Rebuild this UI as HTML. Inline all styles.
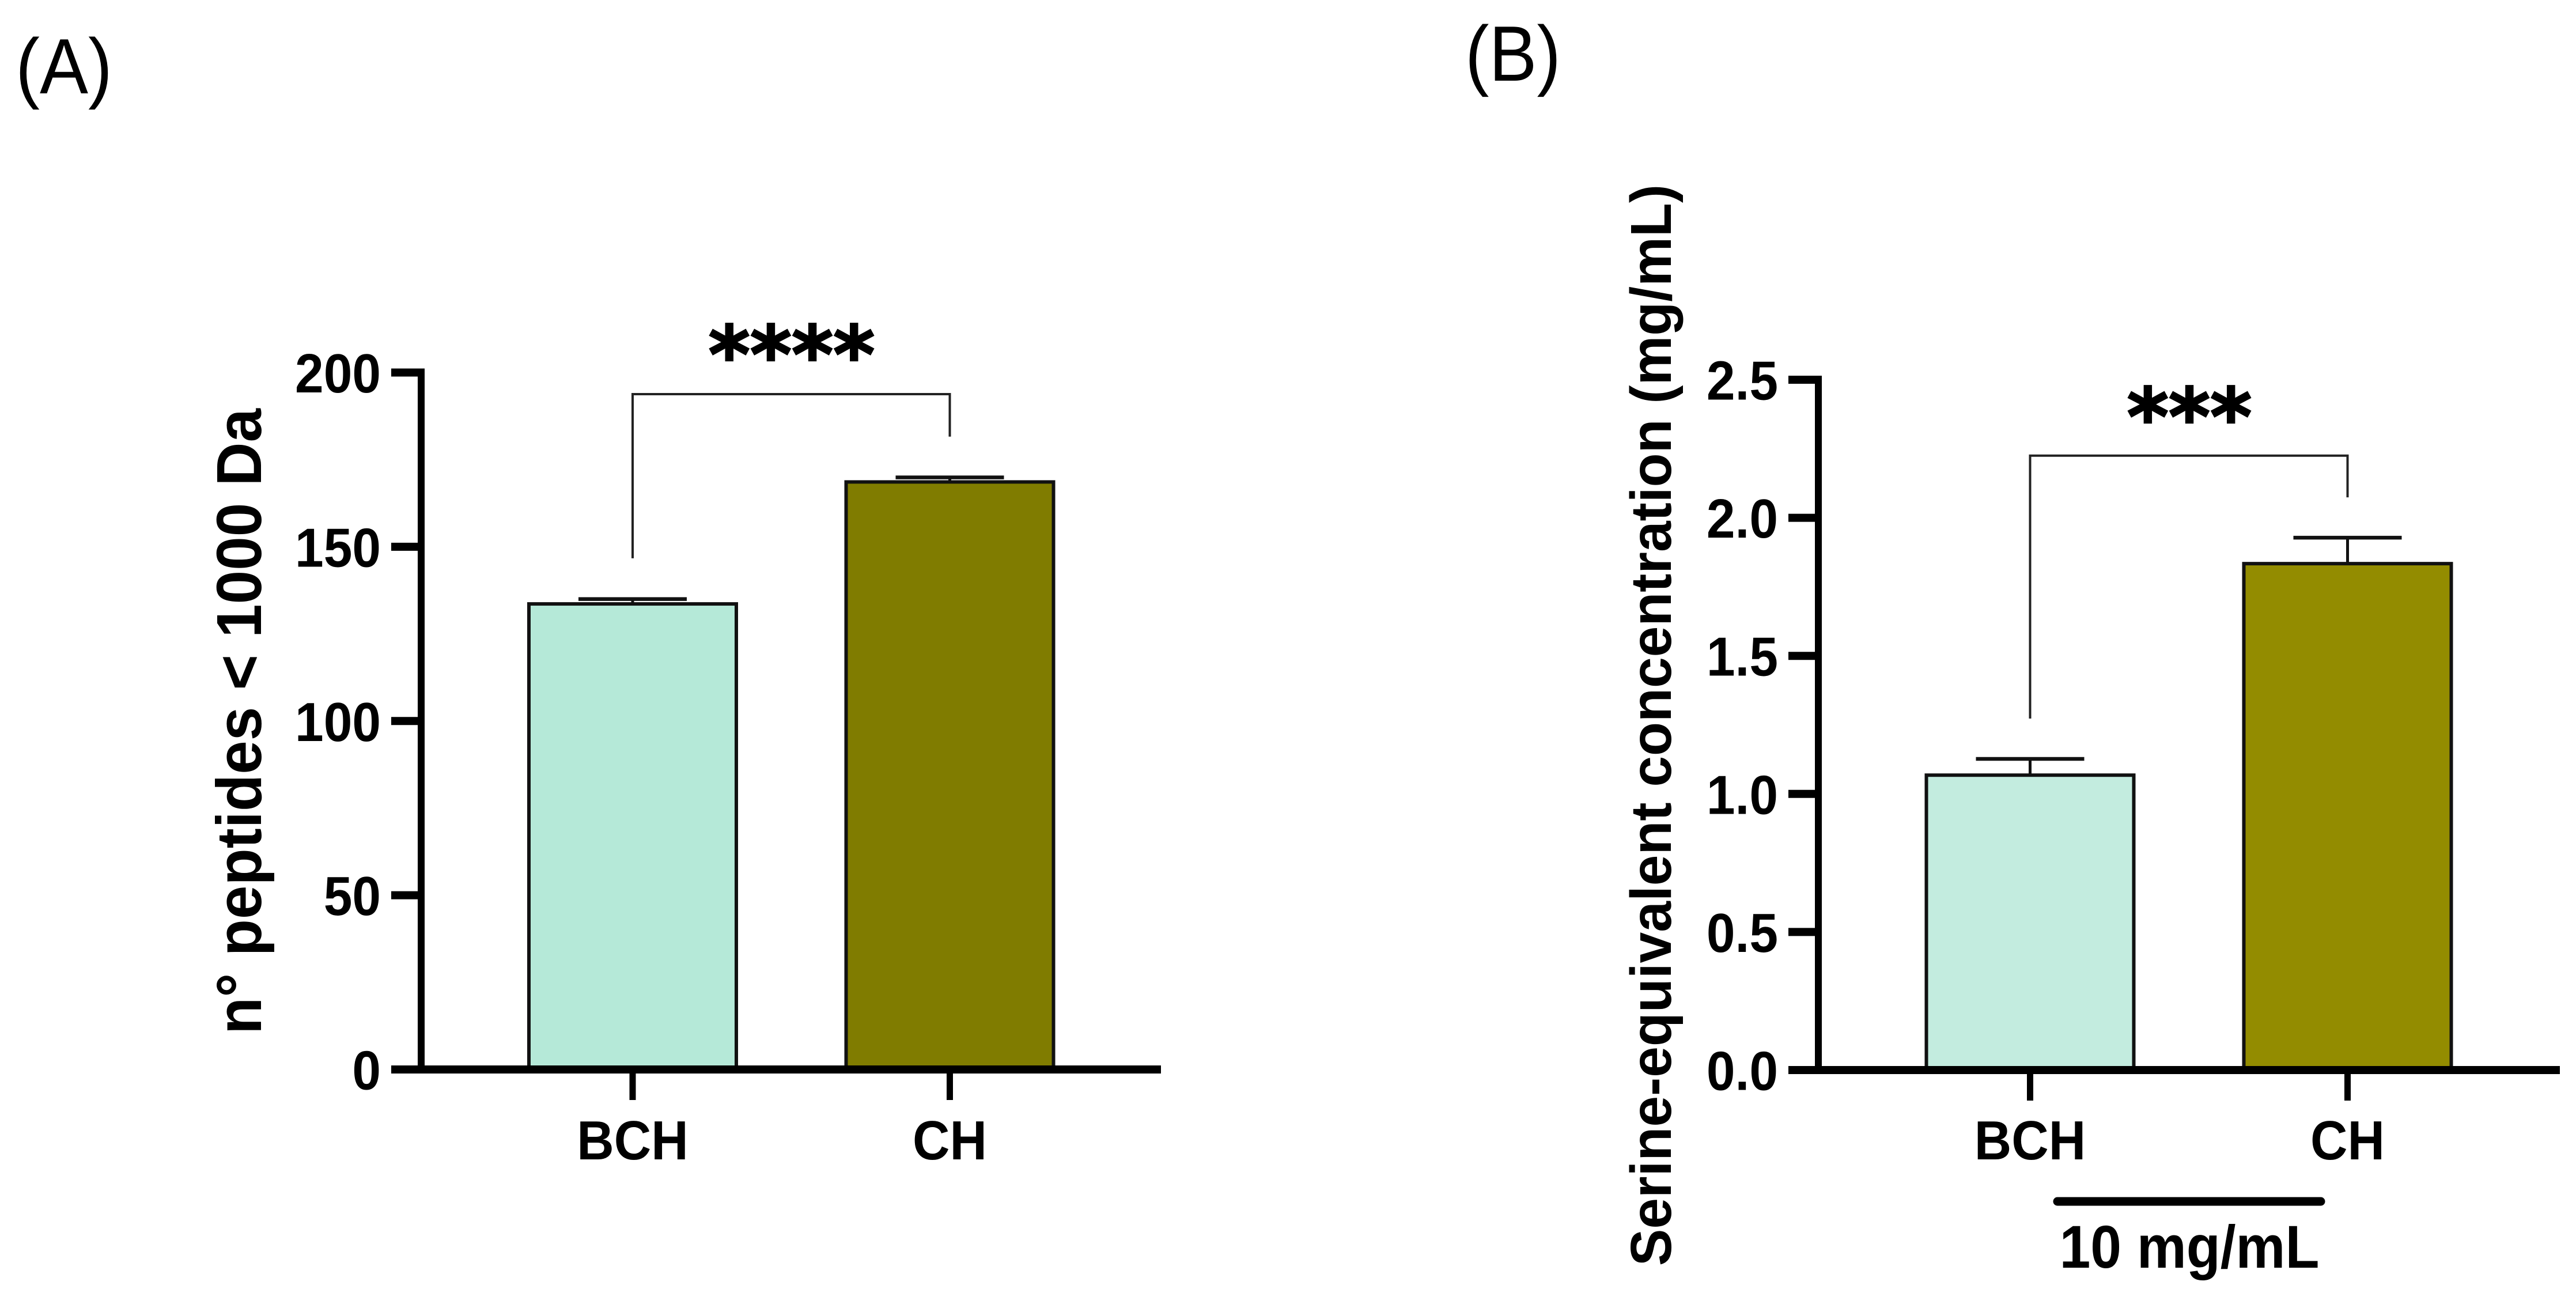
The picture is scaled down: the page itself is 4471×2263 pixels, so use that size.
<!DOCTYPE html>
<html lang="en">
<head>
<meta charset="utf-8">
<title>Peptide and serine-equivalent bar charts</title>
<style>
html,body{margin:0;padding:0;background:#fff;width:4471px;height:2263px;overflow:hidden}
svg{display:block}
text{font-family:"Liberation Sans",sans-serif;fill:#000}
.b{font-weight:bold}
.stars{font-family:"DejaVu Sans",sans-serif;font-weight:bold;stroke:#000;stroke-width:3}
</style>
</head>
<body>
<svg id="figure" width="4471" height="2263" viewBox="0 0 4471 2263" xmlns="http://www.w3.org/2000/svg">
<rect width="4471" height="2263" fill="#fff"/>
<text x="27" y="162" font-size="136" textLength="168" lengthAdjust="spacingAndGlyphs">(A)</text>
<text x="2543" y="140" font-size="136" textLength="166" lengthAdjust="spacingAndGlyphs">(B)</text>
<text class="b" transform="translate(453 1795) rotate(-90)" font-size="110" textLength="1086" lengthAdjust="spacingAndGlyphs">n° peptides &lt; 1000 Da</text>
<text class="b" transform="translate(2900 2197) rotate(-90)" font-size="100" textLength="1877" lengthAdjust="spacingAndGlyphs">Serine-equivalent concentration (mg/mL)</text>
<text class="stars" x="1374" y="664" font-size="138" text-anchor="middle">****</text>
<text class="stars" x="3800" y="772" font-size="138" text-anchor="middle">***</text>
<line x1="3571" y1="2085" x2="4028" y2="2085" stroke="#000" stroke-width="15" stroke-linecap="round"/>
<text class="b" transform="translate(3800 2200) scale(.92 1)" font-size="105" text-anchor="middle">10 mg/mL</text>
<g id="chart-a"></g>
<g id="chart-b"></g>
</svg>
<script>
const aCategories = ['BCH', 'CH'];
const aValues = [133.6, 168.6];
const aErrorTops = [135, 169.9];
const aTickValues = [0, 50, 100, 150, 200];
const aTickLabels = ['0', '50', '100', '150', '200'];
const aBracketValues = [146.7, 193.8, 181.6];

const bCategories = ['BCH', 'CH'];
const bValues = [1.068, 1.834];
const bErrorTops = [1.127, 1.928];
const bTickValues = [0, 0.5, 1, 1.5, 2, 2.5];
const bTickLabels = ['0.0', '0.5', '1.0', '1.5', '2.0', '2.5'];
const bBracketValues = [1.273, 2.225, 2.074];

const NS = 'http://www.w3.org/2000/svg';
function make(parent, tag, attrs) {
  const el = document.createElementNS(NS, tag);
  for (const k in attrs) el.setAttribute(k, attrs[k]);
  parent.appendChild(el);
  return el;
}

function drawPanel(opts) {
  const root = document.getElementById(opts.id);
  const prefix = opts.prefix;
  const yMax = opts.tickValues[opts.tickValues.length - 1];
  const yScale = v => opts.y0 - (v / yMax) * (opts.y0 - opts.yTop);
  const xScale = i => opts.xFirst + i * opts.xStep;

  opts.categories.forEach((cat, i) => {
    const cx = xScale(i);
    const errTop = yScale(opts.errorTops[i]);
    const stem = make(root, 'line', {x1: cx, x2: cx, y1: yScale(opts.values[i]), y2: errTop, stroke: '#111', 'stroke-width': 5});
    
    
    const cap = make(root, 'line', {x1: cx - 94, x2: cx + 94, y1: errTop, y2: errTop, stroke: '#111', 'stroke-width': 6.5});
    
    
    const top = yScale(opts.values[i]);
    const bar = make(root, 'rect', {x: cx - 180, y: top, width: 360, height: opts.y0 - top, fill: opts.colors[i], stroke: '#111', 'stroke-width': 6});
    
    
    const tick = make(root, 'line', {x1: cx, x2: cx, y1: opts.y0, y2: opts.y0 + 53, stroke: '#000', 'stroke-width': 11});
    
    
    const label = make(root, 'text', {transform: 'translate(' + cx + ' 2012) scale(.93 1)', 'font-size': 96, 'text-anchor': 'middle', class: 'b'});
    
    
    label.textContent = cat;
  });

  const yAxis = make(root, 'line', {x1: opts.xAxis, x2: opts.xAxis, y1: yScale(yMax) - 7, y2: opts.y0, stroke: '#000', 'stroke-width': 12});
  
  
  const xAxis = make(root, 'line', {x1: opts.xAxis - 52, x2: opts.xRight, y1: opts.y0, y2: opts.y0, stroke: '#000', 'stroke-width': 14});
  
  

  opts.tickValues.forEach((v, i) => {
    const y = yScale(v);
    const t = make(root, 'line', {x1: opts.xAxis - 52, x2: opts.xAxis, y1: y, y2: y, stroke: '#000', 'stroke-width': 14});
    
    
    const l = make(root, 'text', {transform: 'translate(' + (opts.xAxis - 70) + ' ' + (y + 34.5) + ') scale(.93 1)', 'font-size': 96, 'text-anchor': 'end', class: 'b'});
    
    
    l.textContent = opts.tickLabels[i];
  });

  const bL = yScale(opts.bracket[0]), bT = yScale(opts.bracket[1]), bR = yScale(opts.bracket[2]);
  const x1 = xScale(0), x2 = xScale(1);
  const br = make(root, 'polyline', {points: [x1, bL, x1, bT, x2, bT, x2, bR].join(' '), fill: 'none', stroke: '#222', 'stroke-width': 4});
  
  
}

drawPanel({id: 'chart-a', prefix: 'panel-a', categories: aCategories, values: aValues, errorTops: aErrorTops,
  tickValues: aTickValues, tickLabels: aTickLabels, bracket: aBracketValues,
  colors: ['#b5e9d8', '#807c00'], y0: 1856, yTop: 646.5, xFirst: 1098, xStep: 550.5, xAxis: 731, xRight: 2015});
drawPanel({id: 'chart-b', prefix: 'panel-b', categories: bCategories, values: bValues, errorTops: bErrorTops,
  tickValues: bTickValues, tickLabels: bTickLabels, bracket: bBracketValues,
  colors: ['#c3ecdf', '#938c00'], y0: 1857, yTop: 659, xFirst: 3523.5, xStep: 551, xAxis: 3156, xRight: 4443});
</script>
</body>
</html>
